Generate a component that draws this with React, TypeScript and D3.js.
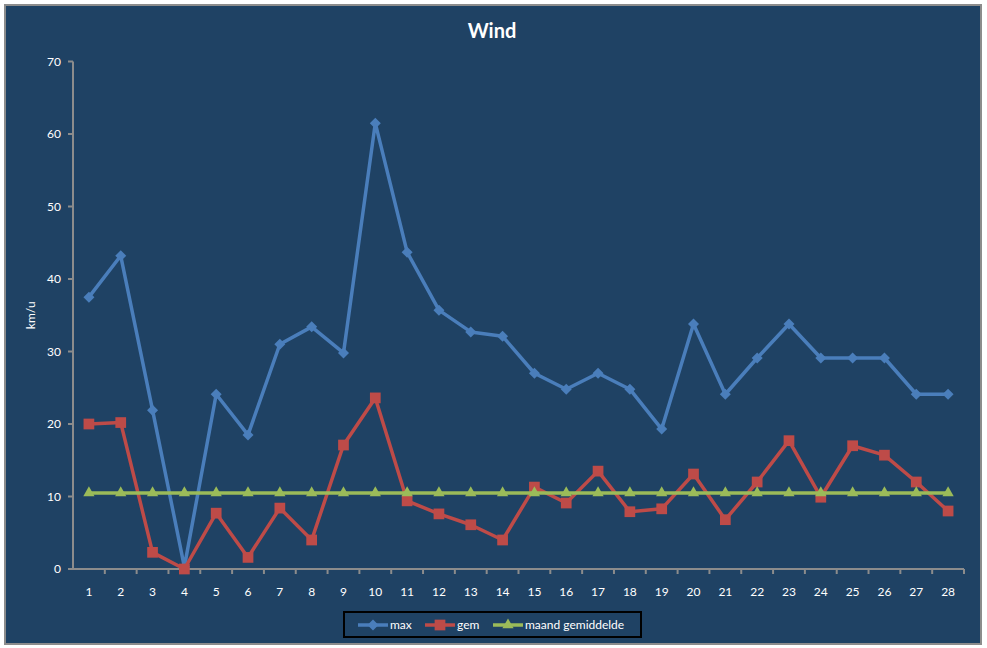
import * as d3 from 'd3';

const days = d3.range(1, 29).map(String);
const maxWind = [37.5, 43.2, 21.9, 0.3, 24.1, 18.5, 31.0, 33.4, 29.8, 61.5, 43.7, 35.7, 32.7, 32.1, 27.0, 24.8, 27.0, 24.8, 19.3, 33.8, 24.1, 29.1, 33.8, 29.1, 29.1, 29.1, 24.1, 24.1];
const gemWind = [20.0, 20.2, 2.3, 0.0, 7.7, 1.6, 8.4, 4.0, 17.1, 23.6, 9.4, 7.6, 6.1, 4.0, 11.3, 9.1, 13.5, 7.9, 8.3, 13.1, 6.8, 12.0, 17.7, 9.9, 17.0, 15.7, 12.0, 8.0];
const maandGem = days.map(() => 10.5);
const yTicks = [0, 10, 20, 30, 40, 50, 60, 70];

const W = 987;
const H = 648;
const plot = { left: 73, right: 964, top: 61.5, bottom: 569 };
const font = 'Lato, "Open Sans", "DejaVu Sans", sans-serif';
const bg = '#1F4264';
const axisCol = '#8C8C8C';

const series = [
  { name: 'max', values: maxWind, color: '#4A7EBB', marker: 'diamond' },
  { name: 'gem', values: gemWind, color: '#BE4B48', marker: 'square' },
  { name: 'maand gemiddelde', values: maandGem, color: '#9BBB59', marker: 'triangle' },
];

// square-ish diamond like Excel's marker
const diamond = 'M0,-5.5L5.5,0L0,5.5L-5.5,0Z';

const symbolFor = (m: string) =>
  m === 'diamond'
    ? diamond
    : m === 'square'
    ? d3.symbol().type(d3.symbolSquare).size(115)()
    : d3.symbol().type(d3.symbolTriangle).size(55)();

export default function App() {
  const x = d3.scaleBand<string>().domain(days).range([plot.left, plot.right]);
  const y = d3.scaleLinear().domain([0, 70]).range([plot.bottom, plot.top]);
  const cx = (d: string) => (x(d) ?? 0) + x.bandwidth() / 2;

  const line = d3
    .line<number>()
    .x((_, i) => cx(days[i]))
    .y((v) => y(v));

  const legendItems = [
    { x: 358, tx: 390 },
    { x: 425, tx: 457 },
    { x: 493, tx: 525 },
  ];

  return (
    <svg width={W} height={H} style={{ position: 'absolute', left: 0, top: 0 }}>
      <rect x={5} y={5} width={976} height={639} fill={bg} stroke="#8C8C8C" strokeWidth={2} />
      <text x={492} y={38} textAnchor="middle" fill="#fff" fontFamily={font} fontWeight="bold" fontSize={20}>
        Wind
      </text>
      <text
        transform={`translate(35,${(plot.top + plot.bottom) / 2}) rotate(-90)`}
        textAnchor="middle"
        fill="#fff"
        fontFamily={font}
        fontSize={12}
      >
        km/u
      </text>

      {/* y axis */}
      <line x1={plot.left} x2={plot.left} y1={plot.top} y2={plot.bottom} stroke={axisCol} strokeWidth={2} />
      {yTicks.map((t) => (
        <g key={t}>
          <line x1={plot.left - 5} x2={plot.left} y1={y(t)} y2={y(t)} stroke={axisCol} strokeWidth={2} />
          <text x={plot.left - 12} y={y(t) + 4} textAnchor="end" fill="#fff" fontFamily={font} fontSize={12}>
            {t}
          </text>
        </g>
      ))}

      {/* x axis */}
      <line x1={plot.left} x2={plot.right} y1={plot.bottom} y2={plot.bottom} stroke={axisCol} strokeWidth={2} />
      {days.map((d) => (
        <g key={d}>
          <line
            x1={(x(d) ?? 0) + x.bandwidth()}
            x2={(x(d) ?? 0) + x.bandwidth()}
            y1={plot.bottom}
            y2={plot.bottom + 5}
            stroke={axisCol}
            strokeWidth={2}
          />
          <text x={cx(d)} y={plot.bottom + 27} textAnchor="middle" fill="#fff" fontFamily={font} fontSize={12}>
            {d}
          </text>
        </g>
      ))}

      {/* series */}
      {series.map((s) => (
        <g key={s.name}>
          <path d={line(s.values) ?? ''} fill="none" stroke={s.color} strokeWidth={3.5} strokeLinejoin="round" />
          {s.values.map((v, i) => (
            <path key={i} d={symbolFor(s.marker) ?? ''} transform={`translate(${cx(days[i])},${y(v)})`} fill={s.color} />
          ))}
        </g>
      ))}

      {/* legend */}
      <rect x={344} y={612} width={297} height={25} fill="none" stroke="#000" strokeWidth={2} />
      {series.map((s, i) => (
        <g key={s.name}>
          <line x1={legendItems[i].x} x2={legendItems[i].x + 30} y1={625} y2={625} stroke={s.color} strokeWidth={3.5} />
          <path d={symbolFor(s.marker) ?? ''} transform={`translate(${legendItems[i].x + 15},625)`} fill={s.color} />
          <text x={legendItems[i].tx} y={629} fill="#fff" fontFamily={font} fontSize={12}>
            {s.name}
          </text>
        </g>
      ))}
    </svg>
  );
}
